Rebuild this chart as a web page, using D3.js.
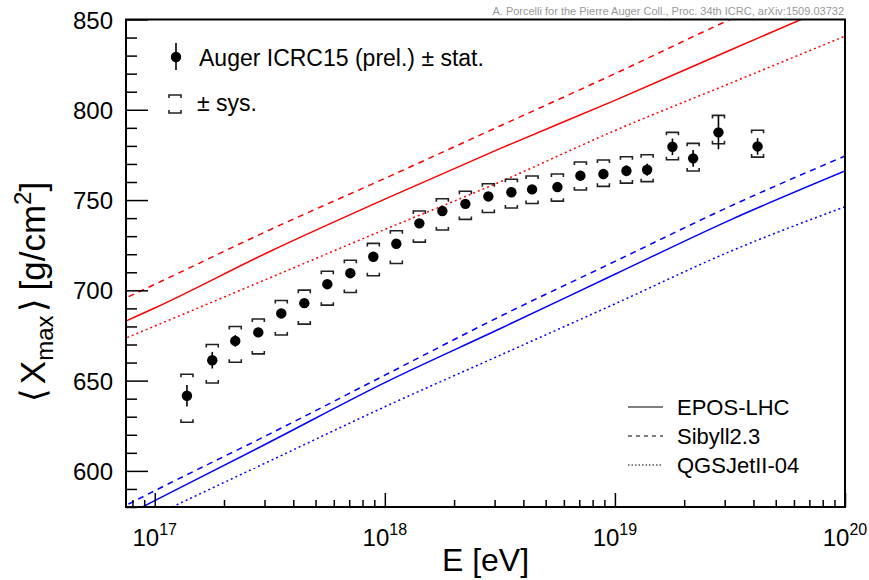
<!DOCTYPE html>
<html>
<head>
<meta charset="utf-8">
<script src="https://cdn.jsdelivr.net/npm/d3@7"></script>
<style>
  body { margin: 0; background: #fff; }
  svg { display: block; font-family: "Liberation Sans", Arial, Helvetica, sans-serif; }
</style>
</head>
<body>
<svg id="chart" width="869" height="580"></svg>
<script>
// ---- Auger <Xmax> measurements (log10 of energy in eV) ----
const lgE = [17.14, 17.25, 17.35, 17.45, 17.55, 17.65, 17.75, 17.85, 17.95, 18.05,
             18.15, 18.25, 18.35, 18.45, 18.55, 18.64, 18.75, 18.85, 18.95, 19.05,
             19.14, 19.25, 19.34, 19.45, 19.62];
const xmax = [641.6, 661.3, 672.0, 676.7, 687.2, 692.9, 703.4, 709.5, 718.6, 725.8,
              737.1, 743.9, 747.9, 752.0, 754.3, 755.9, 757.2, 763.5, 764.4, 766.2,
              766.8, 779.5, 773.1, 787.5, 779.7];
const statErr = [6.0, 4.6, 3.2, 2.6, 2.5, 2.4, 2.4, 2.4, 2.4, 2.4,
                 2.4, 2.4, 2.4, 2.4, 2.5, 2.5, 2.6, 2.7, 2.8, 3.0,
                 3.3, 4.6, 4.6, 9.4, 4.6];
const sysUp = [11.9, 8.7, 8.0, 7.4, 7.2, 7.2, 7.2, 7.2, 7.4, 7.2,
               6.8, 6.8, 7.0, 7.0, 7.2, 7.4, 7.2, 7.6, 7.8, 7.8,
               8.3, 8.0, 8.3, 9.4, 9.0];
const sysLow = [14.7, 12.6, 11.8, 11.9, 11.9, 11.6, 11.6, 10.7, 10.5, 10.9,
                10.4, 10.5, 8.6, 8.9, 8.7, 7.8, 7.8, 7.9, 6.8, 6.8,
                6.6, 7.2, 7.0, 6.3, 5.9];

// ---- Hadronic model predictions for proton and iron primaries ----
const modelLgE = [16.8, 17.0, 17.5, 18.0, 18.5, 19.0, 19.5, 20.0];
const eposProton    = [678.8, 690.2, 721.5, 750.5, 778.5, 805.2, 833.0, 860.5];
const sibyllProton  = [691.3, 703.3, 733.5, 762.0, 791.0, 820.0, 850.0, 878.0];
const qgsjetProton  = [669.6, 680.2, 706.9, 733.7, 760.0, 788.5, 814.6, 840.8];
const eposIron      = [570.5, 583.5, 616.0, 648.9, 678.7, 708.9, 738.9, 766.1];
const sibyllIron    = [576.0, 589.0, 620.5, 653.0, 685.5, 716.0, 746.5, 774.4];
const qgsjetIron    = [563.5, 575.5, 605.5, 635.5, 664.0, 692.5, 721.5, 746.3];

const modelNames = ["EPOS-LHC", "Sibyll2.3", "QGSJetII-04"];

// ---- axis ticks ----
const xDecades = [17, 18, 19, 20];
const yMajorTicks = [600, 650, 700, 750, 800, 850];

const svg = d3.select("#chart");
const frame = { left: 126, right: 845, top: 19.5, bottom: 507 };

const x = d3.scaleLog().domain([7.5e16, 1e20]).range([frame.left, frame.right]);
const y = d3.scaleLinear().domain([580, 850]).range([frame.bottom, frame.top]);

svg.append("defs").append("clipPath").attr("id", "plotClip")
  .append("rect")
  .attr("x", frame.left).attr("y", frame.top)
  .attr("width", frame.right - frame.left).attr("height", frame.bottom - frame.top);

// ---- model curves ----
const dashStyles = [null, "6,5", "2,3"];
const modelSets = [
  { values: eposProton,   color: "#ff0000", style: 0 },
  { values: sibyllProton, color: "#ff0000", style: 1 },
  { values: qgsjetProton, color: "#ff0000", style: 2 },
  { values: eposIron,     color: "#0000ff", style: 0 },
  { values: sibyllIron,   color: "#0000ff", style: 1 },
  { values: qgsjetIron,   color: "#0000ff", style: 2 }
];
const modelLine = d3.line()
  .x((d, i) => x(Math.pow(10, modelLgE[i])))
  .y(d => y(d))
  .curve(d3.curveMonotoneX);

const curves = svg.append("g").attr("clip-path", "url(#plotClip)");
modelSets.forEach(m => {
  curves.append("path")
    .attr("d", modelLine(m.values))
    .attr("fill", "none")
    .attr("stroke", m.color)
    .attr("stroke-width", 1.5)
    .attr("stroke-dasharray", dashStyles[m.style]);
});

// ---- data points ----
const points = lgE.map((l, i) => ({
  e: Math.pow(10, l), v: xmax[i], stat: statErr[i], up: sysUp[i], low: sysLow[i]
}));
const bw = 6, leg = 3;
const dataG = svg.append("g");
dataG.selectAll("path.sys").data(points).join("path")
  .attr("class", "sys")
  .attr("d", d => {
    const cx = x(d.e), t = y(d.v + d.up), b = y(d.v - d.low);
    return `M${cx - bw},${t + leg}V${t}H${cx + bw}V${t + leg}` +
           `M${cx - bw},${b - leg}V${b}H${cx + bw}V${b - leg}`;
  })
  .attr("fill", "none").attr("stroke", "#222").attr("stroke-width", 1.6);
dataG.selectAll("line.stat").data(points).join("line")
  .attr("class", "stat")
  .attr("x1", d => x(d.e)).attr("x2", d => x(d.e))
  .attr("y1", d => y(d.v - d.stat)).attr("y2", d => y(d.v + d.stat))
  .attr("stroke", "#000").attr("stroke-width", 1.6);
dataG.selectAll("circle").data(points).join("circle")
  .attr("cx", d => x(d.e)).attr("cy", d => y(d.v)).attr("r", 5.2)
  .attr("fill", "#000");

// ---- frame and axes ----
svg.append("rect")
  .attr("x", frame.left).attr("y", frame.top)
  .attr("width", frame.right - frame.left).attr("height", frame.bottom - frame.top)
  .attr("fill", "none").attr("stroke", "#000").attr("stroke-width", 2);

const xMinor = x.ticks().filter(v => Math.abs(Math.log10(v) - Math.round(Math.log10(v))) > 1e-6);
const xMajor = xDecades.map(d => Math.pow(10, d));
const tickStyle = g => {
  g.select(".domain").remove();
  g.selectAll("line").attr("stroke", "#000").attr("stroke-width", 1.5);
  g.selectAll("text").remove();
};
svg.append("g").attr("transform", `translate(0,${frame.bottom})`)
  .call(d3.axisBottom(x).tickValues(xMinor).tickSize(-7)).call(tickStyle);
svg.append("g").attr("transform", `translate(0,${frame.bottom})`)
  .call(d3.axisBottom(x).tickValues(xMajor).tickSize(-14)).call(tickStyle);

const yMinor = d3.range(580, 851, 10).filter(v => !yMajorTicks.includes(v));
svg.append("g").attr("transform", `translate(${frame.left},0)`)
  .call(d3.axisLeft(y).tickValues(yMinor).tickSize(-11)).call(tickStyle);
svg.append("g").attr("transform", `translate(${frame.left},0)`)
  .call(d3.axisLeft(y).tickValues(yMajorTicks).tickSize(-22)).call(tickStyle);

// tick labels
svg.append("g").selectAll("text").data(yMajorTicks).join("text")
  .attr("x", 113).attr("y", d => y(d) + 9)
  .attr("text-anchor", "end").attr("font-size", 24).attr("fill", "#000")
  .text(d => d);

const xl = svg.append("g").selectAll("text").data(xDecades).join("text")
  .attr("x", d => x(Math.pow(10, d))).attr("y", 546)
  .attr("text-anchor", "middle").attr("font-size", 24).attr("fill", "#000");
xl.append("tspan").text("10");
xl.append("tspan").attr("dy", -11).attr("font-size", 16).text(d => d);

// axis titles
svg.append("text")
  .attr("x", (frame.left + frame.right) / 2).attr("y", 571)
  .attr("text-anchor", "middle").attr("font-size", 32).attr("fill", "#000")
  .text("E [eV]");

const yt = svg.append("text")
  .attr("transform", "translate(45,292) rotate(-90)")
  .attr("text-anchor", "middle").attr("font-size", 35).attr("fill", "#000");
yt.append("tspan").text("\u27E8");
yt.append("tspan").attr("dx", 4).text("X");
yt.append("tspan").attr("dy", 8).attr("font-size", 24).text("max");
yt.append("tspan").attr("dy", -8).attr("dx", 3).text("\u27E9");
yt.append("tspan").attr("dx", 8).text("[g/cm");
yt.append("tspan").attr("dy", -14).attr("font-size", 24).text("2");
yt.append("tspan").attr("dy", 14).text("]");

// credit line
svg.append("text")
  .attr("x", 844).attr("y", 15).attr("text-anchor", "end")
  .attr("font-size", 11).attr("fill", "#999")
  .text("A. Porcelli for the Pierre Auger Coll., Proc. 34th ICRC, arXiv:1509.03732");

// ---- data legend ----
const lg = svg.append("g");
lg.append("line").attr("x1", 176).attr("x2", 176).attr("y1", 43).attr("y2", 70)
  .attr("stroke", "#000").attr("stroke-width", 1.6);
lg.append("circle").attr("cx", 176).attr("cy", 57).attr("r", 5.2).attr("fill", "#000");
lg.append("text").attr("x", 199).attr("y", 66).attr("font-size", 23).attr("fill", "#000")
  .text("Auger ICRC15 (prel.) \u00B1 stat.");
lg.append("path")
  .attr("d", `M${169},${95 + leg}V95H${181}V${95 + leg}M169,${113 - leg}V113H181V${113 - leg}`)
  .attr("fill", "none").attr("stroke", "#222").attr("stroke-width", 1.6);
lg.append("text").attr("x", 197).attr("y", 111).attr("font-size", 23).attr("fill", "#000")
  .text("\u00B1 sys.");

// ---- model legend ----
const ml = svg.append("g");
const legendRows = [407, 436, 465];
const legendDash = [null, "4,4", "1.5,2"];
modelNames.forEach((name, i) => {
  ml.append("line")
    .attr("x1", 628).attr("x2", 663).attr("y1", legendRows[i]).attr("y2", legendRows[i])
    .attr("stroke", "#000").attr("stroke-width", 1)
    .attr("stroke-dasharray", legendDash[i]);
  ml.append("text")
    .attr("x", 677).attr("y", legendRows[i] + 8)
    .attr("font-size", 22).attr("fill", "#000")
    .text(name);
});
</script>
</body>
</html>
